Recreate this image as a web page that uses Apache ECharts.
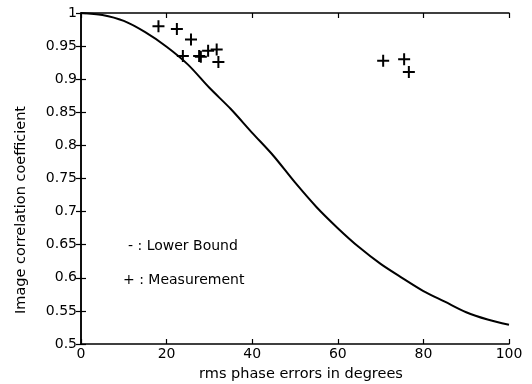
<!DOCTYPE html>
<html>
<head>
<meta charset="utf-8">
<script src="https://cdn.jsdelivr.net/npm/echarts@6/dist/echarts.min.js"></script>
<style>html,body{margin:0;padding:0;background:#fff}#c{width:532px;height:384px}</style>
</head>
<body>
<div id="c"></div>
<script>
var boundX = [0, 5, 10, 15, 20, 25, 30, 35, 40, 45, 50, 55, 60, 65, 70, 75, 80, 85, 90, 95, 100];
var boundY = [1.0, 0.997, 0.988, 0.971, 0.949, 0.922, 0.887, 0.855, 0.819, 0.784, 0.744, 0.707, 0.675, 0.646, 0.621, 0.600, 0.580, 0.564, 0.548, 0.537, 0.529];
var measX = [18.1, 22.4, 25.7, 23.8, 27.6, 28.0, 29.7, 31.7, 32.1, 70.6, 75.5, 76.6];
var measY = [0.980, 0.976, 0.960, 0.935, 0.935, 0.934, 0.943, 0.945, 0.926, 0.928, 0.930, 0.911];
var xTicks = [0, 20, 40, 60, 80, 100];
var xTitle = 'rms phase errors in degrees';
var yTitle = 'Image correlation coefficient';
var legendTexts = ['- : Lower Bound', '+ : Measurement'];

var FONT = 'DejaVu Sans';
var FS = 14;
var chart = echarts.init(document.getElementById('c'));
function pairs(xs, ys){ return xs.map(function(x,i){ return [x, ys[i]]; }); }
var lineStyle = {color:'#000', width:1.5};
var tick = {show:true, inside:true, length:5, lineStyle:{color:'#000', width:1.2}};
var plus = 'path://M-1,-6 L1,-6 L1,-1 L6,-1 L6,1 L1,1 L1,6 L-1,6 L-1,1 L-6,1 L-6,-1 L-1,-1 Z';
var tfont = FS + 'px "' + FONT + '"';
chart.setOption({
  animation:false,
  backgroundColor:'#fff',
  grid:{left:81, right:23, top:13, bottom:40, containLabel:false},
  xAxis:[{
    type:'value', min:xTicks[0], max:xTicks[xTicks.length-1], interval:20, position:'bottom',
    axisLine:{show:true, lineStyle:lineStyle}, axisTick:tick, splitLine:{show:false},
    axisLabel:{color:'#000', fontFamily:FONT, fontSize:FS, margin:3}
  },{
    type:'value', min:xTicks[0], max:xTicks[xTicks.length-1], interval:20, position:'top',
    axisLine:{show:true, lineStyle:lineStyle}, axisTick:tick, splitLine:{show:false},
    axisLabel:{show:false}
  }],
  yAxis:[{
    type:'value', min:0.5, max:1, interval:0.05, position:'left',
    axisLine:{show:true, lineStyle:lineStyle}, axisTick:tick, splitLine:{show:false},
    axisLabel:{color:'#000', fontFamily:FONT, fontSize:FS, margin:4,
      formatter:function(v){ return String(+v.toFixed(2)); }}
  },{
    type:'value', min:0.5, max:1, interval:0.05, position:'right',
    axisLine:{show:true, lineStyle:lineStyle}, axisTick:tick, splitLine:{show:false},
    axisLabel:{show:false}
  }],
  series:[{
    type:'line', data:pairs(boundX, boundY), smooth:0.3, showSymbol:false,
    lineStyle:{color:'#000', width:2}, z:3
  },{
    type:'scatter', data:pairs(measX, measY), symbol:plus, symbolSize:12,
    itemStyle:{color:'#000', opacity:1}, z:4
  }],
  graphic:[
    {type:'text', left:128, top:239, style:{text:legendTexts[0], fill:'#000', font:tfont}},
    {type:'text', left:123, top:273, style:{text:legendTexts[1], fill:'#000', font:tfont}},
    {type:'text', x:301, y:374, style:{text:xTitle, fill:'#000', font:'14.5px "' + FONT + '"', align:'center', verticalAlign:'middle'}},
    {type:'text', x:21, y:210, rotation:Math.PI/2, style:{text:yTitle, fill:'#000', font:'14.5px "' + FONT + '"', align:'center', verticalAlign:'middle'}}
  ]
});
</script>
</body>
</html>
